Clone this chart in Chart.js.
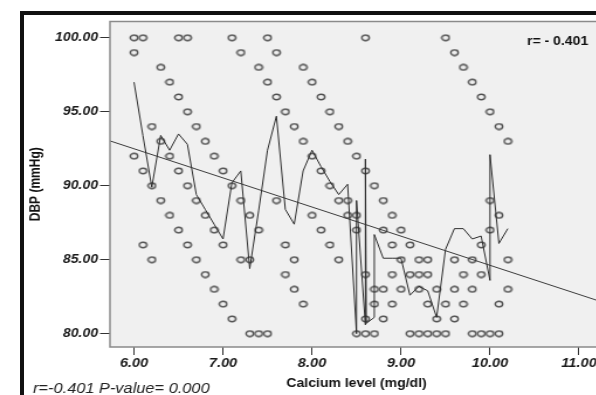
<!DOCTYPE html>
<html>
<head>
<meta charset="utf-8">
<script src="https://cdn.jsdelivr.net/npm/chart.js@4.4.1/dist/chart.umd.min.js"></script>
<style>
  html, body { margin: 0; padding: 0; background: #fff; overflow: hidden; width: 596px; height: 395px; }
  #frame { position: absolute; left: 20px; top: 11px; width: 700px; height: 500px; border-top: 4px solid #111; border-left: 4px solid #111; }
  #plot { position: absolute; left: 0; top: 0; }
</style>
</head>
<body>
<div id="frame"></div>
<!-- the source image is stretched sideways, so the canvas is drawn narrow and widened by its inline size -->
<canvas id="plot" width="530" height="395" style="width:620px;height:395px"></canvas>
<script>
// rows of dots: DBP level and the calcium values sitting on that row
const dbpRows = [100, 99, 98, 97, 96, 95, 94, 93, 92, 91, 90, 89, 88, 87, 86, 85, 84, 83, 82, 81, 80];
const calciumByRow = [
  [6.0, 6.1, 6.5, 6.6, 7.1, 7.5, 8.6, 9.5],
  [6.0, 7.2, 7.6, 9.6],
  [6.3, 7.4, 7.9, 9.7],
  [6.4, 7.5, 8.0, 9.8],
  [6.5, 7.6, 8.1, 9.9],
  [6.6, 7.7, 8.2, 10.0],
  [6.2, 6.7, 7.8, 8.3, 10.1],
  [6.3, 6.8, 7.9, 8.4, 10.2],
  [6.0, 6.4, 6.9, 8.0, 8.5],
  [6.1, 6.5, 7.0, 8.1, 8.6],
  [6.2, 6.6, 7.1, 8.2, 8.7],
  [6.3, 6.7, 7.2, 7.6, 8.3, 8.4, 8.8, 10.0],
  [6.4, 6.8, 7.3, 8.0, 8.4, 8.5, 8.9, 10.1],
  [6.5, 6.9, 7.4, 8.1, 8.5, 8.8, 9.0, 10.0],
  [6.1, 6.6, 7.0, 7.7, 8.2, 8.9, 9.1, 9.9],
  [6.2, 6.7, 7.2, 7.3, 7.8, 8.3, 9.0, 9.2, 9.3, 9.6, 9.8, 10.2],
  [6.8, 7.7, 8.6, 8.9, 9.1, 9.2, 9.3, 9.7, 9.9],
  [6.9, 7.8, 8.7, 8.8, 9.0, 9.2, 9.4, 9.6, 9.8, 10.2],
  [7.0, 7.9, 8.7, 8.9, 9.3, 9.5, 9.7, 10.1],
  [7.1, 8.6, 8.8, 9.4, 9.6],
  [7.3, 7.4, 7.5, 8.5, 8.6, 8.7, 9.1, 9.2, 9.3, 9.4, 9.5, 9.8, 9.9, 10.0, 10.1]
];

// jagged fit line
const lineX = [6.0, 6.1, 6.2, 6.3, 6.4, 6.5, 6.6, 6.7, 6.8, 6.9, 7.0, 7.1, 7.2, 7.3, 7.4, 7.5, 7.6, 7.7, 7.8, 7.9,
  8.0, 8.1, 8.2, 8.3, 8.4, 8.5, 8.5, 8.6, 8.6, 8.61, 8.7, 8.7, 8.8, 8.9, 9.0, 9.1, 9.2, 9.3, 9.4, 9.5,
  9.6, 9.7, 9.8, 9.9, 10.0, 10.0, 10.1, 10.2];
const lineY = [97.0, 93.4, 89.9, 93.4, 92.4, 93.5, 92.8, 89.4, 88.4, 87.4, 86.4, 90.2, 91.0, 84.4, 88.3, 92.4, 94.7, 88.4, 87.4, 91.0,
  92.4, 91.3, 90.3, 89.4, 90.1, 80.0, 89.0, 80.6, 91.8, 80.7, 81.1, 86.7, 85.1, 85.1, 85.1, 82.6, 83.2, 82.9, 81.1, 85.7,
  87.1, 87.1, 86.4, 86.6, 83.6, 92.1, 86.1, 87.1];

// straight regression line, end points at the plot edges
const regX = [5.73, 11.27];
const regY = [93.03, 82.12];

const xTicks = [6, 7, 8, 9, 10, 11];
const yTicks = [80, 85, 90, 95, 100];

const FONT = "'Liberation Sans', Arial, sans-serif";

// hollow dot used for every case
const dot = document.createElement('canvas');
dot.width = 9; dot.height = 8;
const g = dot.getContext('2d');
g.strokeStyle = '#505050';
g.lineWidth = 1.4;
g.beginPath();
g.ellipse(4.5, 4, 3.2, 2.7, 0, 0, Math.PI * 2);
g.stroke();

const dots = [];
dbpRows.forEach((dbp, i) => {
    calciumByRow[i].forEach(ca => dots.push({ x: ca, y: dbp }));
});

const plotFrame = {
    id: 'plotFrame',
    beforeDraw(chart) {
        const { ctx, chartArea: a } = chart;
        ctx.save();
        ctx.fillStyle = '#f0f0f0';
        ctx.fillRect(a.left, a.top, a.right - a.left, a.bottom - a.top);
        ctx.restore();
    },
    afterDraw(chart) {
        const { ctx, chartArea: a } = chart;
        ctx.save();
        ctx.strokeStyle = '#8a8a8a';
        ctx.lineWidth = 1.5;
        ctx.strokeRect(a.left, a.top, a.right - a.left, a.bottom - a.top);

        ctx.fillStyle = '#111';
        ctx.font = "bold 12px " + FONT;
        ctx.textBaseline = 'middle';
        ctx.textAlign = 'left';
        ctx.fillText('r= - 0.401', 450.5, 42);

        ctx.fillStyle = '#222';
        ctx.font = "italic 14px " + FONT;
        ctx.textBaseline = 'alphabetic';
        ctx.fillText('r=-0.401 P-value= 0.000', 28.2, 393);
        ctx.restore();
    }
};

new Chart(document.getElementById('plot'), {
    type: 'scatter',
    data: {
        datasets: [
            {
                data: lineX.map((x, i) => ({ x: x, y: lineY[i] })),
                showLine: true,
                borderColor: '#2e2e2e',
                borderWidth: 1,
                pointRadius: 0,
                tension: 0
            },
            {
                data: regX.map((x, i) => ({ x: x, y: regY[i] })),
                showLine: true,
                borderColor: '#3c3c3c',
                borderWidth: 1,
                pointRadius: 0
            },
            {
                data: dots,
                showLine: false,
                pointStyle: dot,
                pointRadius: 4
            }
        ]
    },
    options: {
        responsive: false,
        devicePixelRatio: 1,
        animation: false,
        events: [],
        layout: { padding: { left: 0, top: 21.5, right: 14.5, bottom: 0 } },
        plugins: {
            legend: { display: false },
            tooltip: { enabled: false }
        },
        scales: {
            x: {
                type: 'linear',
                min: 5.73,
                max: 11.27,
                afterBuildTicks: scale => { scale.ticks = xTicks.map(v => ({ value: v })); },
                afterFit: scale => { scale.height = 48; },
                grid: { drawOnChartArea: false, drawTicks: true, tickLength: 8, color: '#333' },
                border: { display: false },
                ticks: {
                    color: '#1a1a1a',
                    font: { family: FONT, size: 12.5, weight: 'bold', style: 'italic' },
                    padding: 1,
                    maxRotation: 0,
                    autoSkip: false,
                    callback: v => Number(v).toFixed(2)
                },
                title: {
                    display: true,
                    text: 'Calcium level (mg/dl)',
                    color: '#111',
                    font: { family: FONT, size: 12, weight: 'bold' },
                    padding: { top: 0, bottom: 4 }
                }
            },
            y: {
                type: 'linear',
                min: 79.1,
                max: 101.1,
                afterBuildTicks: scale => { scale.ticks = yTicks.map(v => ({ value: v })); },
                afterFit: scale => { scale.width = 94; },
                grid: { drawOnChartArea: false, drawTicks: true, tickLength: 8.5, color: '#333' },
                border: { display: false },
                ticks: {
                    color: '#1a1a1a',
                    font: { family: FONT, size: 12, weight: 'bold', style: 'italic' },
                    padding: 1.7,
                    autoSkip: false,
                    callback: v => Number(v).toFixed(2)
                },
                title: {
                    display: true,
                    text: 'DBP (mmHg)',
                    color: '#111',
                    font: { family: FONT, size: 12, weight: 'bold' },
                    padding: { top: 23.6, bottom: 0 }
                }
            }
        }
    },
    plugins: [plotFrame]
});
</script>
</body>
</html>
